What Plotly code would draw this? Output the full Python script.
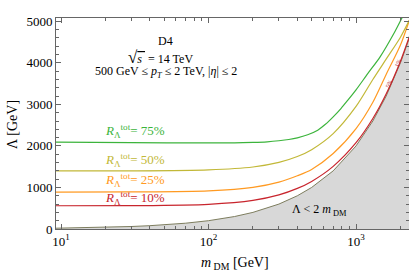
import plotly.graph_objects as go

# ---- data ----
m_bound = [9, 12, 15, 20, 30, 40, 50, 70, 100, 150, 200, 300, 400, 500, 700, 1000, 1300, 1600, 2000, 2300]
lam_bound = [18, 24, 30, 40, 60, 80, 100, 140, 200, 300, 400, 600, 800, 1000, 1400, 2000, 2600, 3200, 4000, 4600]

m_r10 = [9, 30, 100, 200, 300, 400, 500, 700, 1000, 1300, 1600, 2000, 2300]
lam_r10 = [560, 563, 595, 688, 821, 977, 1146, 1508, 2077, 2660, 3249, 4039, 4634]

m_r25 = [9, 30, 100, 200, 300, 400, 500, 700, 1000, 1300, 1600, 2000, 2300]
lam_r25 = [890, 893, 918, 1001, 1128, 1282, 1434, 1817, 2415, 3050, 3720, 4430, 5030]

m_r50 = [9, 30, 100, 200, 300, 400, 500, 700, 1000, 1300, 1600, 2000, 2300]
lam_r50 = [1400, 1400, 1424, 1493, 1603, 1744, 1910, 2296, 2950, 3599, 4088, 4617, 5029]

m_r75 = [9, 30, 100, 150, 200, 250, 300, 350, 400, 470, 550, 620, 700, 790, 883, 1000, 1200, 1456, 1800, 2043, 2200]
lam_r75 = [2090, 2080, 2072, 2075, 2085, 2100, 2125, 2155, 2195, 2270, 2380, 2520, 2700, 2900, 3108, 3350, 3740, 4145, 4700, 5077, 5300]

labels = ["75%", "50%", "25%", "10%"]
colors = ["#3cb43c", "#c2b838", "#ff9a22", "#c8252d"]

x_major = [10, 100, 1000]
x_major_text = ["10<sup>1</sup>", "10<sup>2</sup>", "10<sup>3</sup>"]
x_minor = [9] + [d * k for d in (10, 100) for k in range(2, 10)] + [2000]
y_major = [0, 1000, 2000, 3000, 4000, 5000]

FONT = "Liberation Serif"

fig = go.Figure()

fig.add_trace(go.Scatter(x=m_bound, y=lam_bound, mode="lines", fill="tozeroy",
                         fillcolor="#d8d8d8", line=dict(color="#7d7d5e", width=1),
                         hoverinfo="skip", showlegend=False))

for mx, ly, c in [(m_r10, lam_r10, colors[3]), (m_r25, lam_r25, colors[2]),
                  (m_r50, lam_r50, colors[1]), (m_r75, lam_r75, colors[0])]:
    fig.add_trace(go.Scatter(x=mx, y=ly, mode="lines", line=dict(color=c, width=1.2, shape="spline", smoothing=0.8),
                             showlegend=False, hoverinfo="skip"))

W, H = 409, 273
L, R, T, B = 56, 0, 18, 44
pw, ph = W - L - R, H - T - B

def px(x):
    return (x - L) / pw

def py(y):
    return (H - B - y) / ph

ann = []
label_y = [131, 160, 180, 198]
for lab, c, yy in zip(labels, colors, label_y):
    ann.append(dict(x=px(103), y=py(yy), xref="paper", yref="paper", xanchor="left", yanchor="middle",
                    text="<i>R</i><sub>Λ</sub><sup>tot</sup>= " + lab, showarrow=False,
                    font=dict(family=FONT, size=13, color=c)))

ann += [
    dict(x=px(165), y=py(41), text="D4", font=dict(family=FONT, size=12, color="black")),
    dict(x=px(160), y=py(57),
         text="<span style='font-size:17px'>√</span><span style='text-decoration:overline'><i>s</i> </span> = 14 TeV",
         font=dict(family=FONT, size=12, color="black")),
    dict(x=px(166), y=py(72), text="500 GeV ≤ <i>p</i><sub><i>T</i></sub> ≤ 2 TeV, |<i>η</i>| ≤ 2",
         font=dict(family=FONT, size=12, color="black")),
    dict(x=px(319), y=py(210), text="Λ < 2 <i>m</i><sub> DM</sub>",
         font=dict(family=FONT, size=12, color="black")),
    dict(x=px(235), y=py(263), text="<i>m</i><sub> DM</sub> [GeV]",
         font=dict(family=FONT, size=14, color="black")),
    dict(x=px(12), y=py(125), text="Λ [GeV]", textangle=-90,
         font=dict(family=FONT, size=14, color="black")),
    dict(x=px(389), y=py(84), text="5%", textangle=-62,
         font=dict(family=FONT, size=6, color="#b8262d")),
    dict(x=px(398), y=py(63), text="1%", textangle=-66,
         font=dict(family=FONT, size=6, color="#b8262d")),
]
for a in ann[len(labels):]:
    a.update(xref="paper", yref="paper", showarrow=False, xanchor="center", yanchor="middle")

fig.update_layout(annotations=ann)

fig.update_xaxes(type="log", range=[0.966, 3.359], showgrid=False, zeroline=False,
                 showline=True, linecolor="#666", linewidth=1, mirror="allticks",
                 ticks="inside", ticklen=5, tickcolor="#666",
                 tickmode="array", tickvals=x_major, ticktext=x_major_text,
                 tickfont=dict(family=FONT, size=13, color="black"),
                 minor=dict(ticks="inside", ticklen=3, tickcolor="#666", tickmode="array", tickvals=x_minor))
fig.update_yaxes(range=[0, 5080], showgrid=False, zeroline=False,
                 showline=True, linecolor="#666", linewidth=1, mirror="allticks",
                 ticks="inside", ticklen=5, tickcolor="#666",
                 tickmode="array", tickvals=y_major,
                 tickfont=dict(family=FONT, size=13, color="black"),
                 minor=dict(ticks="inside", ticklen=3, tickcolor="#666", dtick=200))

fig.update_layout(width=W, height=H, margin=dict(l=L, r=R, t=T, b=B),
                  plot_bgcolor="white", paper_bgcolor="white")

fig.write_html("out.html", config={"displayModeBar": False},
               post_script="document.body.style.margin='0';document.body.style.overflow='hidden';")
